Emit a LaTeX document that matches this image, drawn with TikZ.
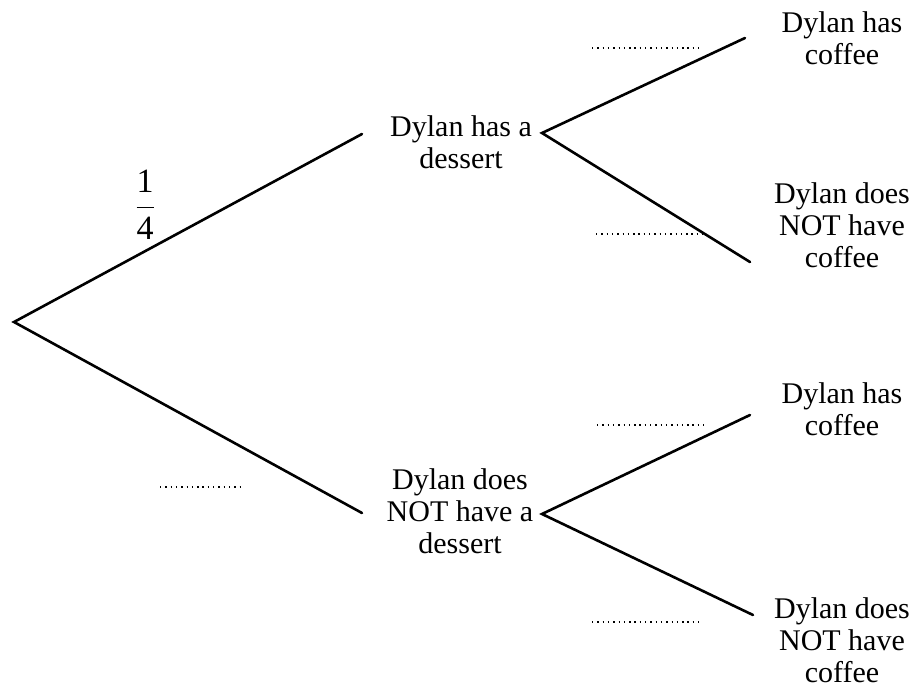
\documentclass[tikz,border=0pt]{standalone}
\usepackage{amsmath}
\usepackage{fontspec}
\setmainfont{Liberation Serif}
\usetikzlibrary{positioning}
\tikzset{
branch/.style = {line width=1.3pt, line cap=round},
label/.style = {align=center, inner sep=0pt, font=\fontsize{15}{16}\selectfont},
blank/.style = {line width=0.9pt, dash pattern=on 0.7pt off 1.95pt},
}

\begin{document}
\begin{tikzpicture}[x=0.5pt, y=-0.5pt]
    \useasboundingbox (0,0) rectangle (916,686);

    % forks and branch ends
    \coordinate (root) at (14,322);
    \coordinate (dtip) at (362,134);
    \coordinate (ntip) at (362,513);
    \coordinate (dfork) at (542,133);
    \coordinate (nfork) at (542,514);
    \coordinate (dctip) at (745,38);
    \coordinate (dntip) at (750,262);
    \coordinate (nctip) at (750,415);
    \coordinate (nntip) at (753,615);

    % outcomes
    \node [label] (dessert) at (461,142) {Dylan has a\\dessert};
    \node [label] (nodessert) at (460,511) {Dylan does\\NOT have a\\dessert};
    \node [label] (dc) at (842,38) {Dylan has\\coffee};
    \node [label] (dn) at (842,225) {Dylan does\\NOT have\\coffee};
    \node [label] (nc) at (842,409) {Dylan has\\coffee};
    \node [label] (nn) at (842,640) {Dylan does\\NOT have\\coffee};

    \node [label, font=\fontsize{17}{18}\selectfont] (p) at (145,205) {$\dfrac{\textrm{1}}{\textrm{4}}$};

    % blanks for probabilities
    \coordinate (b1s) at (160,487); \coordinate (b1e) at (240,487);
    \coordinate (b2s) at (592,48);  \coordinate (b2e) at (702,48);
    \coordinate (b3s) at (596,234); \coordinate (b3e) at (704,234);
    \coordinate (b4s) at (597,425); \coordinate (b4e) at (705,425);
    \coordinate (b5s) at (592,622); \coordinate (b5e) at (700,622);

    \draw [branch] (dtip) -- (root) -- (ntip);
    \draw [branch] (dctip) -- (dfork) -- (dntip);
    \draw [branch] (nctip) -- (nfork) -- (nntip);

    \draw [blank] (b1s) -- (b1e);
    \draw [blank] (b2s) -- (b2e);
    \draw [blank] (b3s) -- (b3e);
    \draw [blank] (b4s) -- (b4e);
    \draw [blank] (b5s) -- (b5e);
\end{tikzpicture}
\end{document}
